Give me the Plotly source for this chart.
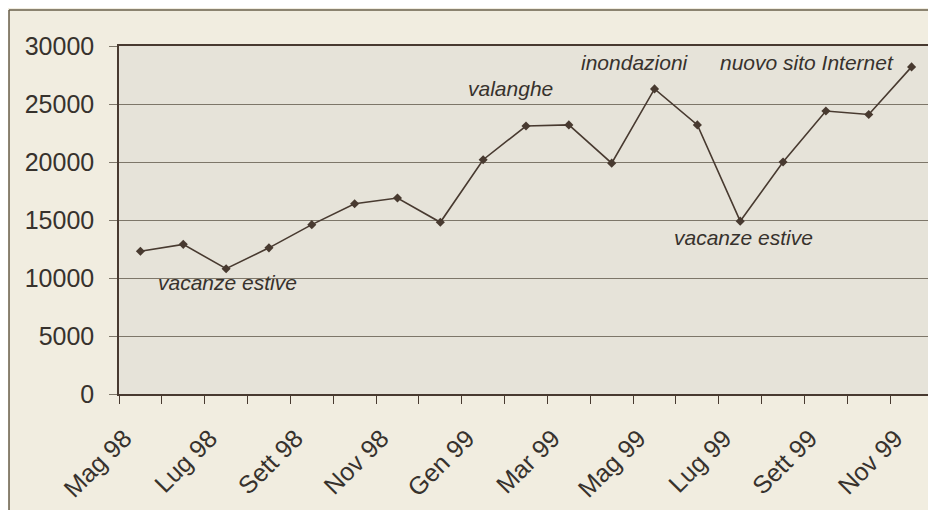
import plotly.graph_objects as go

months = ["Mag 98", "Giu 98", "Lug 98", "Ago 98", "Sett 98", "Ott 98", "Nov 98", "Dic 98",
          "Gen 99", "Feb 99", "Mar 99", "Apr 99", "Mag 99", "Giu 99", "Lug 99", "Ago 99",
          "Sett 99", "Ott 99", "Nov 99"]
values = [12300, 12900, 10800, 12600, 14600, 16400, 16900, 14800,
          20200, 23100, 23200, 19900, 26300, 23200, 14900, 20000,
          24400, 24100, 28200]
shown_labels = ["Mag 98", "Lug 98", "Sett 98", "Nov 98", "Gen 99",
                "Mar 99", "Mag 99", "Lug 99", "Sett 99", "Nov 99"]
y_ticks = [0, 5000, 10000, 15000, 20000, 25000, 30000]

notes = [
    ("vacanze estive", 2.03, 9650),
    ("valanghe", 8.63, 26300),
    ("inondazioni", 11.54, 28620),
    ("nuovo sito Internet", 15.55, 28620),
    ("vacanze estive", 14.08, 13450),
]

ink = "rgb(72,58,48)"
text_col = "rgb(55,50,45)"
grid_col = "rgb(125,118,105)"

fig = go.Figure()
fig.add_trace(go.Scatter(
    x=months, y=values, mode="lines+markers",
    line=dict(color=ink, width=1.6),
    marker=dict(symbol="diamond", size=7, color=ink),
    showlegend=False, hoverinfo="skip",
))

for txt, xi, yv in notes:
    fig.add_annotation(x=xi, y=yv, text="<i>" + txt + "</i>", showarrow=False,
                       xanchor="center", yanchor="middle",
                       font=dict(family="Liberation Sans, Arial", size=21, color=text_col))

# outer frame of the figure
fig.add_shape(type="line", xref="paper", yref="paper",
              x0=-0.1351, y0=1.1034, x1=1.1, y1=1.1034,
              line=dict(color="rgb(105,95,75)", width=1.5))
fig.add_shape(type="line", xref="paper", yref="paper",
              x0=-0.1351, y0=1.1034, x1=-0.1351, y1=-0.5,
              line=dict(color="rgb(105,95,75)", width=1.5))

fig.update_layout(
    width=928, height=502,
    margin=dict(l=111, r=3, t=38, b=116, autoexpand=False),
    paper_bgcolor="rgb(241,237,224)",
    plot_bgcolor="rgb(230,227,217)",
    font=dict(family="Liberation Sans, Arial", size=25, color=text_col),
)
fig.update_xaxes(
    type="category", categoryorder="array", categoryarray=months,
    tickmode="array", tickvals=months,
    ticktext=[m if m in shown_labels else "" for m in months],
    tickson="boundaries", ticks="outside", ticklen=8, tickcolor=ink, tickwidth=1,
    tickangle=-45, ticklabelstandoff=18, ticklabelshift=-16, showgrid=False,
    showline=True, linecolor=ink, linewidth=1.5, mirror=True,
    range=[-0.5, 18.5], automargin=False,
)
fig.update_yaxes(
    range=[0, 30000], tickvals=y_ticks, ticktext=[str(v) for v in y_ticks],
    ticks="outside", ticklen=8, tickcolor=grid_col, tickwidth=1, ticklabelstandoff=10,
    showgrid=True, gridcolor=grid_col, gridwidth=1,
    showline=True, linecolor=ink, linewidth=1.5, mirror=True,
    zeroline=False, automargin=False,
)

fig.write_html("out.html")
